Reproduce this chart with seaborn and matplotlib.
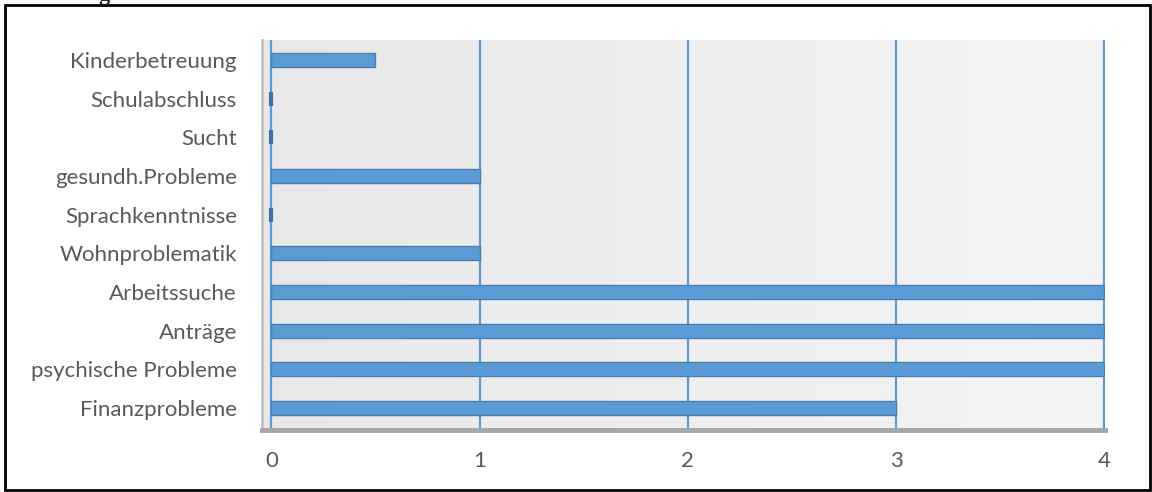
import numpy as np
import matplotlib
matplotlib.use("Agg")
import matplotlib.pyplot as plt
from matplotlib.patches import Rectangle
import pandas as pd
import seaborn as sns

categories = ["Kinderbetreuung", "Schulabschluss", "Sucht", "gesundh.Probleme",
              "Sprachkenntnisse", "Wohnproblematik", "Arbeitssuche", "Anträge",
              "psychische Probleme", "Finanzprobleme"]
values = [0.5, 0, 0, 1, 0, 1, 4, 4, 4, 3]
xticks = [0, 1, 2, 3, 4]

sns.set_theme(style="white")
plt.rcParams["font.family"] = ["Lato", "DejaVu Sans"]

df = pd.DataFrame({"cat": categories, "val": values})

fig = plt.figure(figsize=(11.52, 4.92), dpi=100)
ax = fig.add_axes([262 / 1152, 1 - 430 / 492, (1105 - 262) / 1152, (430 - 40) / 492])

# light gradient wall
grad = np.linspace(0, 1, 256).reshape(1, -1)
ax.imshow(grad, extent=[0, 1, 0, 1], transform=ax.transAxes, aspect="auto",
          cmap=matplotlib.colors.LinearSegmentedColormap.from_list("w", ["#e8e8e8", "#f4f4f4"]),
          zorder=0)

for x in xticks:
    ax.axvline(x, color="#5b9bd5", lw=1.6, zorder=1)

sns.barplot(data=df, x="val", y="cat", orient="h", color="#5b9bd5", width=0.36,
            edgecolor="#4a7fb0", linewidth=1.0, saturation=1, ax=ax, zorder=2)
# zero bars show as a small dark stub in the original
for p in ax.patches:
    if p.get_width() == 0:
        p.set_linewidth(3)
        p.set_edgecolor("#41719c")

ax.set_xlim(-0.045, 4.003)
ax.set_ylim(9.57, -0.52)
ax.set_xticks(xticks)
ax.set_xticklabels([str(t) for t in xticks])
ax.set_xlabel("")
ax.set_ylabel("")
ax.tick_params(axis="both", length=0, labelsize=16, labelcolor="#595959")
ax.tick_params(axis="x", pad=15)
ax.tick_params(axis="y", pad=18)

for s in ["top", "right"]:
    ax.spines[s].set_visible(False)
ax.spines["left"].set_color("#c0c0c0")
ax.spines["left"].set_linewidth(2)
ax.spines["bottom"].set_color("#a6a6a6")
ax.spines["bottom"].set_linewidth(3.5)

# outer frame
fig.patches.append(Rectangle((5 / 1152, 2 / 492), 1145 / 1152, 485 / 492,
                             transform=fig.transFigure, fill=False,
                             edgecolor="black", lw=2))
fig.text(0.085, 1.0, "g", fontsize=16, fontweight="bold",
         family="Liberation Serif", va="baseline")

fig.savefig("out.png", dpi=100)
